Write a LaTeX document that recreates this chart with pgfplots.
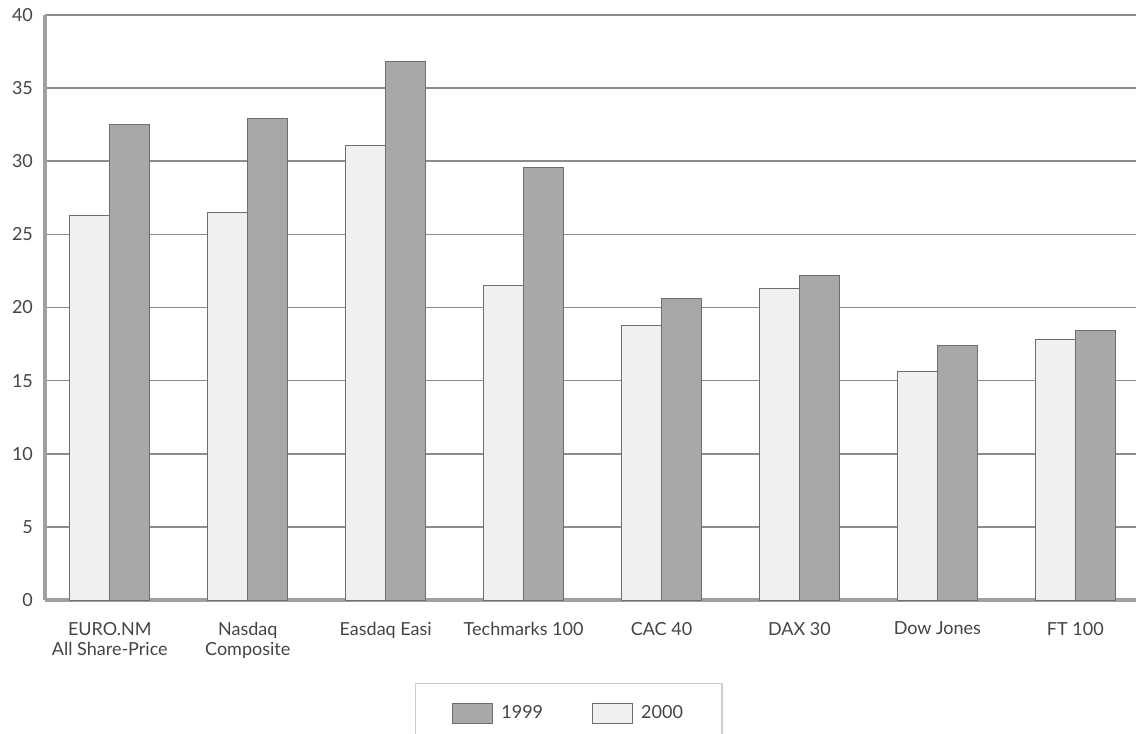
\documentclass[border=0pt]{standalone}
\usepackage{fontspec}
\setmainfont{Lato}
\usepackage{pgfplots}
\pgfplotsset{compat=1.18}
\definecolor{barlight}{HTML}{EEF0F2}
\definecolor{bardark}{HTML}{A8A8A8}
\definecolor{edgec}{HTML}{6E6E6E}
\definecolor{gridc}{HTML}{8C8C8C}
\definecolor{axisc}{HTML}{A0A0A0}
\definecolor{textc}{HTML}{444444}
\begin{document}
\begin{tikzpicture}
\clip (-22.5pt,-67pt) rectangle (545.5pt,300pt);
\begin{axis}[
  at={(0,0)}, anchor=south west,
  scale only axis, width=545.5pt, height=292.5pt,
  xmin=-0.47, xmax=7.44, ymin=0, ymax=40,
  ytick={0,5,...,40},
  xtick={0,...,7},
  xticklabels={{EURO.NM\\All Share-Price},{Nasdaq\\Composite},{Easdaq Easi},{Techmarks 100},{CAC 40},{DAX 30},{Dow Jones},{FT 100}},
  xticklabel style={align=center, font=\fontsize{9}{10.2}\selectfont, text=textc, yshift=-7.5pt},
  yticklabel style={font=\fontsize{9}{11}\selectfont, text=textc, xshift=-2.5pt},
  /pgf/number format/assume math mode=true,
  major tick length=0,
  ymajorgrids, major grid style={gridc, line width=0.8pt},
  axis lines*=left, axis line style={axisc, line width=2pt},
  legend style={at={(0.48,-0.142)}, anchor=north, legend columns=2,
    draw=gray!40, line width=0.6pt, font=\fontsize{9}{11}\selectfont, text=textc,
    inner xsep=17.5pt, inner ysep=9pt,
    /tikz/every even column/.append style={column sep=21.5pt}},
  legend image code/.code={\path[draw=none,fill=none] (0pt,0pt) -- (23.5pt,0pt);\draw[#1, line width=0.4pt] (1pt,-5pt) rectangle (21pt,5pt);},
]
\addplot[ybar, bar width=20pt, bar shift=10pt, fill=bardark, draw=edgec, line width=0.5pt]
  coordinates {(0,32.5) (1,32.9) (2,36.8) (3,29.6) (4,20.6) (5,22.2) (6,17.4) (7,18.4)};
\addlegendentry{1999}
\addplot[ybar, bar width=20pt, bar shift=-10pt, fill=barlight, draw=edgec, line width=0.5pt]
  coordinates {(0,26.3) (1,26.5) (2,31.1) (3,21.5) (4,18.8) (5,21.3) (6,15.6) (7,17.8)};
\addlegendentry{2000}
\end{axis}
\end{tikzpicture}
\end{document}
